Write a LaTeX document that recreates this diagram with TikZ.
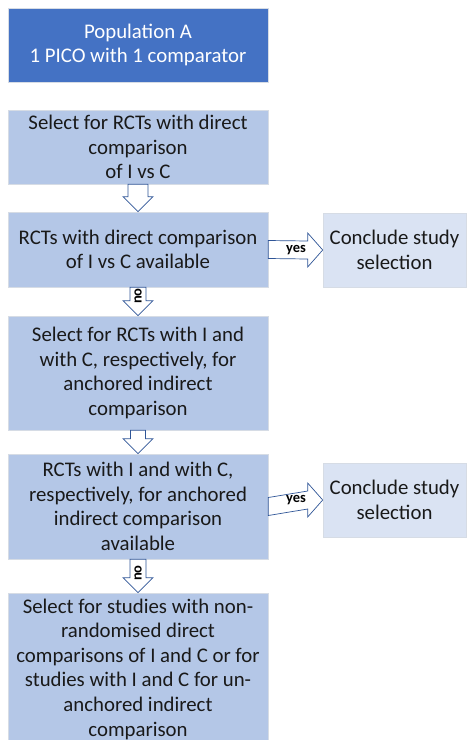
\documentclass[tikz,border=0pt]{standalone}
\usepackage{fontspec}
\setmainfont{Carlito}
\usetikzlibrary{calc}
\definecolor{dark}{HTML}{4472C4}
\definecolor{mid}{HTML}{B4C7E7}
\definecolor{pale}{HTML}{DAE3F3}
\definecolor{edge}{HTML}{2F5597}
\definecolor{rim}{HTML}{D6DCE5}
\newcommand{\blkdown}[3]{%
  \draw[barrow] ($(#1.south)+(-#3,0)$) -- ($(#1.south)+(#3,0)$)
    -- ($(#2.north)+(#3,-15)$) -- ($(#2.north)+(15,-15)$) -- (#2.north)
    -- ($(#2.north)+(-15,-15)$) -- ($(#2.north)+(-#3,-15)$) -- cycle;}
\newcommand{\blkright}[2]{%
  \draw[barrow] ($(#1.east)+(0,-9)$) -- ($(#2.west)+(-15,-9)$)
    -- ($(#2.west)+(-15,-17)$) -- (#2.west) -- ($(#2.west)+(-15,17)$)
    -- ($(#2.west)+(-15,9)$) -- ($(#1.east)+(0,9)$) -- cycle;}
\begin{document}
\begin{tikzpicture}[x=1pt,y=-1pt,
  box/.style={draw=rim, line width=0.6pt, fill=mid, minimum width=260pt,
    align=center, inner sep=0pt, font=\fontsize{20.8}{24.6}\selectfont, text=black!90},
  topbox/.style={box, fill=dark, text=white},
  endbox/.style={box, fill=pale, minimum width=143pt, minimum height=74pt},
  barrow/.style={draw=edge, fill=white, line width=0.7pt, line join=miter},
  lbl/.style={font=\fontsize{14.5}{14.5}\selectfont\bfseries, inner sep=0pt}]
\useasboundingbox (0,0) rectangle (467,740);
\node[topbox, minimum height=74pt] (top) at (138,45) {Population A\\1 PICO with 1 comparator};
\node[box, minimum height=74pt] (b2) at (138,147) {Select for RCTs with direct\\comparison\\of I vs C};
\node[box, minimum height=75pt] (b3) at (138,249.5) {RCTs with direct comparison\\of I vs C available};
\node[box, minimum height=114pt] (b4) at (138,373) {Select for RCTs with I and\\with C, respectively, for\\anchored indirect\\comparison};
\node[box, minimum height=105pt] (b5) at (138,506.5) {RCTs with I and with C,\\respectively, for anchored\\indirect comparison\\available};
\node[box, minimum height=152pt] (b6) at (138,669) {Select for studies with non-\\randomised direct\\comparisons of I and C or for\\studies with I and C for un-\\anchored indirect\\comparison};
\node[endbox] (c1) at (394.5,250) {Conclude study\\selection};
\node[endbox] (c2) at (394.5,500) {Conclude study\\selection};
\blkdown{b2}{b3}{10}
\blkdown{b3}{b4}{8}
\blkdown{b4}{b5}{7.5}
\blkdown{b5}{b6}{8}
\blkright{b3}{c1}
\blkright{b5}{c2}
\node[lbl] (y1) at (296,250) {yes};
\node[lbl] (y2) at (296,500) {yes};
\node[lbl, rotate=90] (n1) at (138,296) {no};
\node[lbl, rotate=90] (n2) at (138,573) {no};
\end{tikzpicture}
\end{document}
